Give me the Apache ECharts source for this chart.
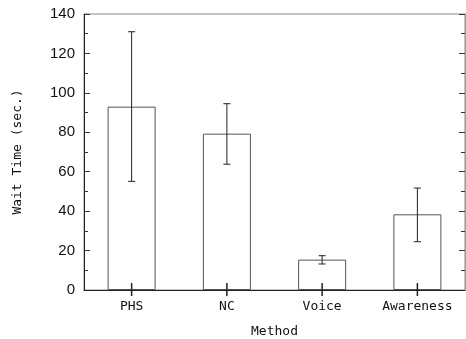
<!DOCTYPE html>
<html><head><meta charset="utf-8">
<script src="https://cdn.jsdelivr.net/npm/echarts@6/dist/echarts.min.js"></script>
<style>html,body{margin:0;padding:0;background:#fff}#c{width:466px;height:339px}</style>
</head><body><div id="c"></div>
<script>
var categories = ['PHS', 'NC', 'Voice', 'Awareness'];
var meanValues = [93, 79.3, 15.4, 38.4];
var errLow = [55.1, 63.8, 13.2, 24.5];
var errHigh = [131, 94.5, 17.4, 51.7];

var chart = echarts.init(document.getElementById('c'));
var mono = "'DejaVu Sans Mono', monospace";
var errData = categories.map(function (c, i) { return [i, errLow[i], errHigh[i]]; });

chart.setOption({
  animation: false,
  grid: { left: 84, right: 1, top: 14, bottom: 49, show: true, borderColor: '#888', borderWidth: 1, containLabel: false, outerBoundsMode: 'none' },
  xAxis: [{
    type: 'category', data: categories, z: 10,
    axisLine: { lineStyle: { color: '#222', width: 1 } },
    axisTick: { show: false },
    axisLabel: { fontFamily: mono, fontSize: 13, color: '#111', margin: 10 },
    name: 'Method', nameLocation: 'middle', nameGap: 35,
    nameTextStyle: { fontFamily: mono, fontSize: 13, color: '#111' }
  }],
  yAxis: [{
    type: 'value', min: 0, max: 140, interval: 20,
    axisLine: { show: true, lineStyle: { color: '#222', width: 1 } },
    axisTick: { show: true, inside: true, length: 6, lineStyle: { color: '#333' } },
    minorTick: { show: true, splitNumber: 2, length: 4, lineStyle: { color: '#333' } },
    splitLine: { show: false },
    axisLabel: { fontFamily: "'Liberation Sans Narrow', 'Liberation Sans', sans-serif", fontSize: 15, color: '#111', margin: 9 },
    name: 'Wait Time (sec.)', nameLocation: 'middle', nameGap: 60,
    nameTextStyle: { fontFamily: mono, fontSize: 13, color: '#111' }
  }, {
    type: 'value', min: 0, max: 140, interval: 20, position: 'right',
    axisLine: { show: true, lineStyle: { color: '#999', width: 1 } },
    axisTick: { show: true, inside: true, length: 6, lineStyle: { color: '#333' } },
    minorTick: { show: true, splitNumber: 2, length: 4, lineStyle: { color: '#333' } },
    splitLine: { show: false },
    axisLabel: { show: false }
  }],
  series: [{
    type: 'bar', data: meanValues, barWidth: 48,
    itemStyle: { color: '#fff', borderColor: '#555', borderWidth: 1 }
  }, {
    type: 'custom', data: errData, z: 5, clip: false,
    renderItem: function (params, api) {
      var x = api.value(0);
      var lo = api.coord([x, api.value(1)]);
      var hi = api.coord([x, api.value(2)]);
      var base = api.coord([x, 0]);
      var hw = 3.5;
      var st = { stroke: '#222', lineWidth: 1 };
      return { type: 'group', children: [
        { type: 'line', shape: { x1: lo[0], y1: lo[1], x2: hi[0], y2: hi[1] }, style: st },
        { type: 'line', shape: { x1: lo[0] - hw, y1: lo[1], x2: lo[0] + hw, y2: lo[1] }, style: st },
        { type: 'line', shape: { x1: hi[0] - hw, y1: hi[1], x2: hi[0] + hw, y2: hi[1] }, style: st },
        { type: 'line', shape: { x1: base[0], y1: base[1] + 6, x2: base[0], y2: base[1] - 7 }, style: { stroke: '#222', lineWidth: 1.5 } }
      ]};
    }
  }]
});
</script></body></html>
